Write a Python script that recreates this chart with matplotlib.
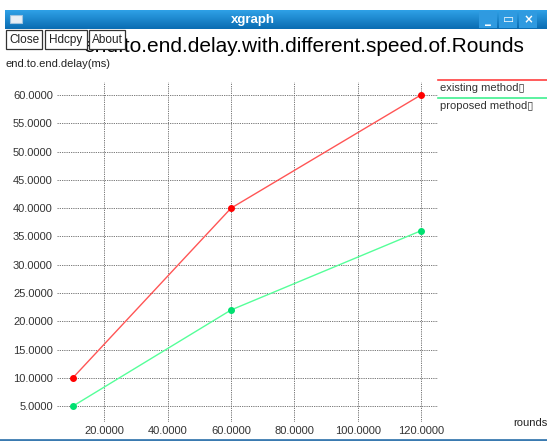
import numpy as np
import matplotlib
matplotlib.use('Agg')
import matplotlib.pyplot as plt
from matplotlib.patches import Rectangle

plt.rcParams['font.family'] = ['Liberation Sans', 'DejaVu Sans']

# data
rounds = [10, 60, 120]
existingDelay = [10, 40, 60]
proposedDelay = [5, 22, 36]
xTicks = [20, 40, 60, 80, 100, 120]
yTicks = [5, 10, 15, 20, 25, 30, 35, 40, 45, 50, 55, 60]
seriesNames = ['existing method\u25af', 'proposed method\u25af']

W, H = 547, 441
fig = plt.figure(figsize=(W / 100, H / 100), dpi=100)

# background axes in pixel coords for the window decoration
bg = fig.add_axes([0, 0, 1, 1])
bg.set_xlim(0, W)
bg.set_ylim(H, 0)
bg.axis('off')

# title bar gradient
grad = np.linspace(0, 1, 20).reshape(-1, 1)
barCmap = matplotlib.colors.LinearSegmentedColormap.from_list('bar', ['#2ea0e6', '#0b6db3'])
bg.imshow(grad, extent=[5, W, 29, 10], cmap=barCmap, aspect='auto', zorder=1)
bg.add_patch(Rectangle((10, 15), 12, 8, facecolor='#e8eef4', edgecolor='#9fc3df', lw=0.8, zorder=2))
bg.text(253, 19.5, 'xgraph', color='white', fontsize=9.5, fontweight='bold',
        ha='center', va='center', zorder=3)
for x0, sym in zip([479, 499, 519], ['_', '\u25ad', '\u00d7']):
    bg.add_patch(Rectangle((x0, 11), 18, 17, facecolor='#2f9ae0', edgecolor='none', zorder=2))
    bg.text(x0 + 9, 19.5, sym, color='white', fontsize=8.5, fontweight='bold',
            ha='center', va='center', zorder=3, family='DejaVu Sans')

# bottom border
bg.plot([0, W], [439.5, 439.5], color='#3a7ab0', lw=2, zorder=2)

# title (partly hidden under the buttons, as in xgraph)
bg.text(304, 47, 'end.to.end.delay.with.different.speed.of.Rounds', fontsize=15,
        ha='center', va='center', color='black', zorder=2)

# buttons
for x0, x1, lab in [(6, 42, 'Close'), (45, 87, 'Hdcpy'), (89, 125, 'About')]:
    bg.add_patch(Rectangle((x0, 30), x1 - x0, 19, facecolor='white', edgecolor='#333333',
                           lw=0.9, zorder=4))
    bg.text((x0 + x1) / 2, 40, lab, fontsize=8.5, ha='center', va='center', zorder=5,
            color='#222222')

bg.text(6, 64, 'end.to.end.delay(ms)', fontsize=8, ha='left', va='center', color='#222222')
bg.text(513, 423, 'rounds', fontsize=8, ha='left', va='center', color='#222222')

# legend
legColors = ['#ff4040', '#40f090']
for i, (name, c) in enumerate(zip(seriesNames, legColors)):
    y = 80 + 18 * i
    bg.plot([438, W], [y, y], color=c, lw=1.2, zorder=2)
    bg.text(440, y + 8, name, fontsize=8, ha='left', va='center', color='#333333')

# data axes
left, right, top, bottom = 57, 438, 81.7, 422
ax = fig.add_axes([left / W, 1 - bottom / H, (right - left) / W, (bottom - top) / H])
ax.patch.set_alpha(0)
ax.set_xlim(5, 125.4)
ax.set_ylim(2.2, 62.35)
for s in ax.spines.values():
    s.set_visible(False)
ax.set_xticks(xTicks)
ax.set_yticks(yTicks)
ax.set_xticklabels(['%.4f' % v for v in xTicks], fontsize=8, color='#333333')
ax.set_yticklabels(['%.4f' % v for v in yTicks], fontsize=8, color='#333333')
ax.tick_params(length=0, pad=3)
ax.grid(True, color='#666666', lw=0.6, linestyle=(0, (1.5, 1.2)))

ax.plot(rounds, existingDelay, color='#ff5555', lw=1.0, marker='o', ms=4,
        mfc='#ff0000', mec='#ff0000', zorder=3)
ax.plot(rounds, proposedDelay, color='#55ff99', lw=1.0, marker='o', ms=4,
        mfc='#00e070', mec='#00e070', zorder=3)

fig.savefig('out.png', dpi=100)
